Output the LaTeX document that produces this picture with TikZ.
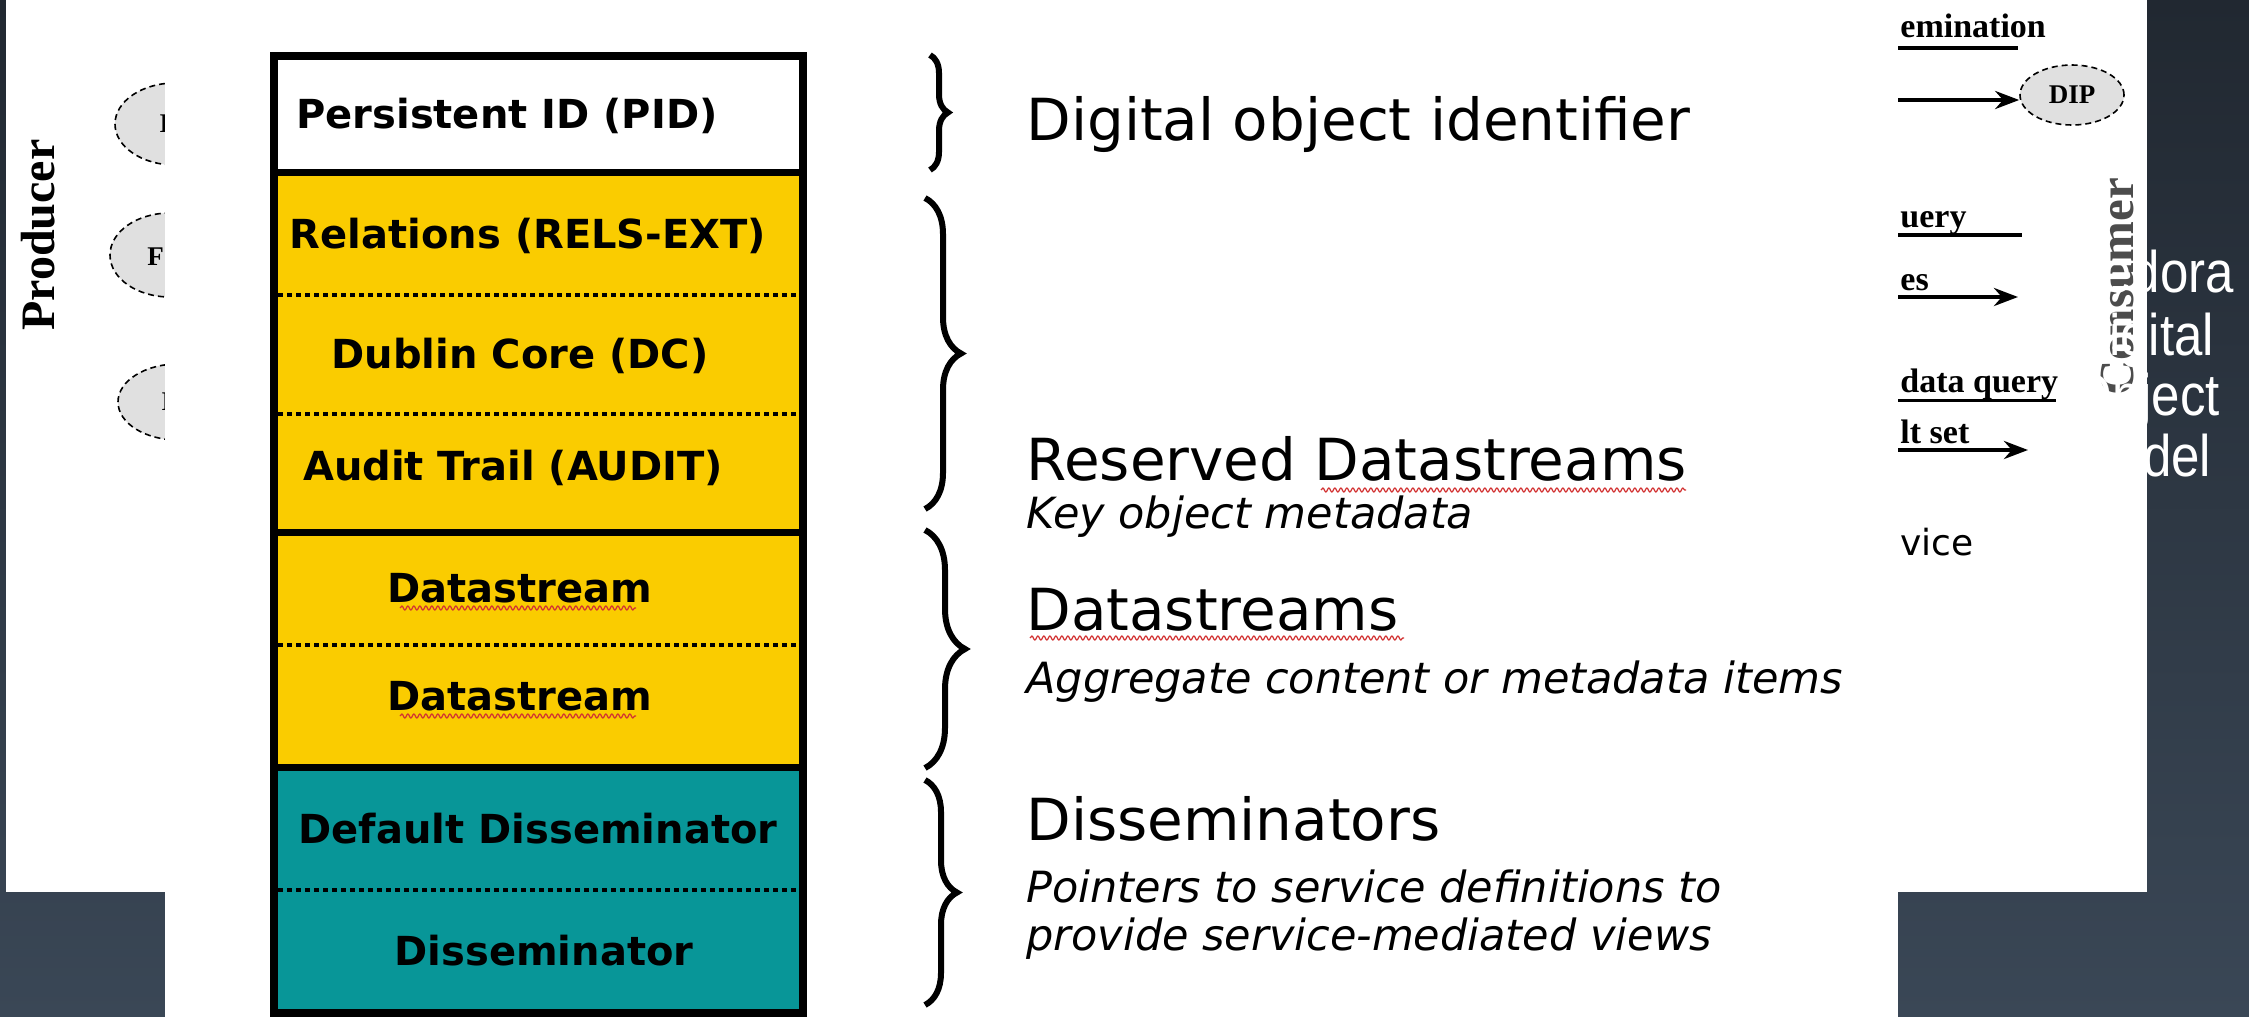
\documentclass[tikz,border=0pt]{standalone}
\usepackage{fontspec}
\usepackage{graphicx}
\usetikzlibrary{positioning,shapes.geometric,arrows.meta,decorations.pathreplacing,decorations.pathmorphing}

\newfontfamily\djv{DejaVu Sans}
\newfontfamily\tms{Liberation Serif}
\newfontfamily\arl{Liberation Sans}

\definecolor{slidetop}{RGB}{33,40,49}
\definecolor{slidebot}{RGB}{58,71,86}
\definecolor{rowyellow}{RGB}{250,204,0}
\definecolor{rowteal}{RGB}{8,150,152}
\definecolor{ovalgrey}{RGB}{224,224,224}
\definecolor{spellred}{RGB}{210,50,50}

\tikzset{
  rowtext/.style={font=\djv\bfseries\fontsize{20}{24}\selectfont, inner sep=0pt, anchor=base},
  headtext/.style={font=\djv\fontsize{29}{34}\selectfont, inner sep=0pt, anchor=base west},
  subtext/.style={font=\djv\itshape\fontsize{21.5}{26}\selectfont, inner sep=0pt, anchor=base west},
  oldtext/.style={font=\tms\bfseries\fontsize{17}{20}\selectfont, inner sep=0pt, anchor=base west},
  oval/.style={ellipse, draw, densely dashed, fill=ovalgrey, line width=0.8pt, inner sep=0pt},
  sepline/.style={line width=3.5pt},
  dotline/.style={line width=2pt, dash pattern=on 2.5pt off 2pt},
  spell/.style={spellred, line width=0.6pt, decorate, decoration={snake, amplitude=1pt, segment length=3pt}},
  bigbrace/.style={line width=3pt, decorate, decoration={brace, amplitude=#1}},
}

\begin{document}
\begin{tikzpicture}[x=0.5pt, y=-0.5pt, >=Stealth]
	\useasboundingbox (0,0) rectangle (2249,1017);
	\shade[top color=slidetop, bottom color=slidebot] (0,0) rectangle (2249,1017);
	
	% archive picture behind
	\fill[white] (6,0) rectangle (2147,892);
	\node[rotate=90, font=\tms\bfseries\fontsize{24}{28}\selectfont] (producer) at (38,235) {Producer};
	
	\node[oval, minimum width=60pt, minimum height=41pt] (ovalA) at (175,124) {};
	\node[oval, minimum width=60pt, minimum height=42pt] (ovalB) at (170,255) {};
	\node[oval, minimum width=60pt, minimum height=38pt] (ovalC) at (178,402) {};
	\node[font=\tms\bfseries\fontsize{13.5}{16}\selectfont, inner sep=0pt, anchor=west] (letA) at (159,124) {I};
	\node[font=\tms\bfseries\fontsize{13.5}{16}\selectfont, inner sep=0pt, anchor=west] (letB) at (147,257) {F};
	\node[font=\tms\bfseries\fontsize{13.5}{16}\selectfont, inner sep=0pt, anchor=west] (letC) at (161,402) {I};
	
	\node[oldtext] (dissem) at (1900,37) {emination};
	\draw[line width=2pt] (1898,48) -- (2018,48);
	\node[oval, minimum width=52pt, minimum height=30pt, font=\tms\bfseries\fontsize{13.5}{16}\selectfont] (dip) at (2072,95) {DIP};
	\coordinate (dipfrom) at (1898,100);
	\draw[->, line width=2pt] (dipfrom) -- (dip.west |- dipfrom);
	
	\node[oldtext] (query) at (1900,227) {uery};
	\draw[line width=2pt] (1898,235) -- (2022,235);
	\node[oldtext] (answer) at (1900,290) {es};
	\coordinate (answerfrom) at (1898,297);
	\coordinate (answerto) at (2018,297);
	\draw[->, line width=2pt] (answerfrom) -- (answerto);
	\node[oldtext] (mquery) at (1900,392) {data query};
	\draw[line width=1.5pt] (1898,400) -- (2056,400);
	\node[oldtext] (rset) at (1900,443) {lt set};
	\coordinate (rsetfrom) at (1898,450);
	\coordinate (rsetto) at (2028,450);
	\draw[->, line width=2pt] (rsetfrom) -- (rsetto);
	\node[font=\djv\fontsize{18}{22}\selectfont, inner sep=0pt, anchor=base west] (svc) at (1900,555) {vice};
	
	\node[rotate=90, font=\tms\bfseries\fontsize{24.5}{28}\selectfont, text=black!70] (consumer) at (2118,287) {Consumer};
	
	% slide title
	\foreach \word/\yb in {Fedora/292, Digital/355, Object/415, Model/476}
		\node[white, font=\arl\fontsize{25.5}{28}\selectfont, inner sep=0pt, anchor=base west] (title\word) at (2072,\yb) {\scalebox{1}[1.15]{\word}};
	
	% object model picture in front
	\fill[white] (165,0) rectangle (1898,1017);
	\fill[white] (274,56) rectangle (803,172);
	\fill[rowyellow] (274,172) rectangle (803,767);
	\fill[rowteal] (274,767) rectangle (803,1013);
	
	\draw[dotline] (278,295) -- (799,295);
	\draw[dotline] (278,414) -- (799,414);
	\draw[dotline] (278,645) -- (799,645);
	\draw[dotline] (278,890) -- (799,890);
	\draw[sepline] (274,172) -- (803,172);
	\draw[sepline] (274,532) -- (803,532);
	\draw[sepline] (274,767) -- (803,767);
	\draw[line width=4pt] (274,56) rectangle (803,1013);
	
	\node[rowtext] (pid) at (507,128) {Persistent ID (PID)};
	\node[rowtext] (rels) at (528,248) {Relations (RELS-EXT)};
	\node[rowtext] (dc) at (520,368) {Dublin Core (DC)};
	\node[rowtext] (audit) at (513,480) {Audit Trail (AUDIT)};
	\node[rowtext] (dsA) at (520,602) {Datastream};
	\node[rowtext] (dsB) at (520,710) {Datastream};
	\node[rowtext] (defdiss) at (538,843) {Default Disseminator};
	\node[rowtext] (diss) at (544,965) {Disseminator};
	\draw[spell] (400,608) -- (636,608);
	\draw[spell] (400,716) -- (636,716);
	
	\draw[bigbrace=9pt] (930,55) -- (930,170);
	\draw[bigbrace=18pt] (925,198) -- (925,509);
	\draw[bigbrace=20pt] (925,530) -- (925,768);
	\draw[bigbrace=16pt] (925,780) -- (925,1005);
	
	\node[headtext] (pidnote) at (1026,140) {Digital object identifier};
	\node[headtext] (resnote) at (1026,480) {Reserved Datastreams};
	\node[subtext] (resdesc) at (1026,528) {Key object metadata};
	\node[headtext] (dsnote) at (1026,630) {Datastreams};
	\node[subtext] (dsdesc) at (1026,693) {Aggregate content or metadata items};
	\node[headtext] (dissnote) at (1026,840) {Disseminators};
	\node[subtext] (dissdescA) at (1026,902) {Pointers to service definitions to};
	\node[subtext] (dissdescB) at (1026,950) {provide service-mediated views};
	\draw[spell] (1321,490) -- (1686,490);
	\draw[spell] (1030,638) -- (1404,638);
\end{tikzpicture}
\end{document}
